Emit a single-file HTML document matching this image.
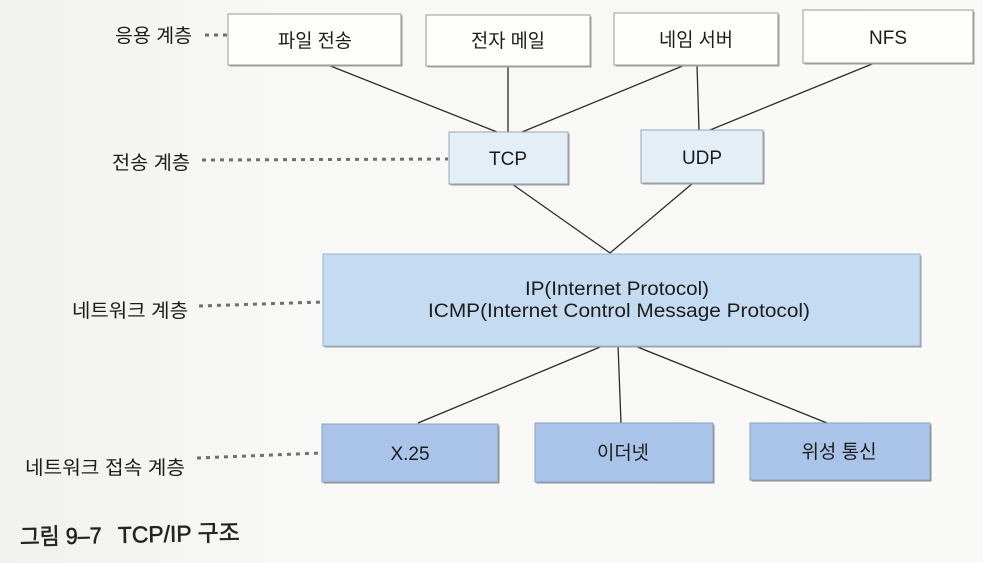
<!DOCTYPE html>
<html><head><meta charset="utf-8"><style>
html,body{margin:0;padding:0;background:#f7f7f5;}
svg{display:block;}
text{font-family:"Liberation Sans","Noto Sans CJK KR",sans-serif;fill:#1c1c1c;}
</style></head><body>
<svg width="983" height="563" viewBox="0 0 983 563" xmlns="http://www.w3.org/2000/svg">
<defs>
<linearGradient id="bg" x1="0" y1="0" x2="1" y2="0">
<stop offset="0" stop-color="#f1f1ef"/><stop offset="0.3" stop-color="#f8f8f6"/><stop offset="1" stop-color="#f9f9f7"/>
</linearGradient>
</defs>
<rect x="0" y="0" width="983" height="563" fill="url(#bg)"/>

<!-- connectors -->
<g stroke="#2a2a2a" stroke-width="1.3" fill="none">
<line x1="328" y1="65" x2="497" y2="132"/>
<line x1="508" y1="66" x2="508" y2="132"/>
<line x1="685" y1="65" x2="522" y2="132"/>
<line x1="697" y1="65" x2="699" y2="130"/>
<line x1="877" y1="62" x2="710" y2="130"/>
<line x1="512" y1="184" x2="610" y2="253"/>
<line x1="693" y1="183" x2="610" y2="253"/>
<line x1="605" y1="345" x2="418" y2="423"/>
<line x1="618" y1="345" x2="621" y2="423"/>
<line x1="630" y1="344" x2="827" y2="423"/>
</g>

<!-- dotted leaders -->
<g stroke="#6f6f6f" stroke-width="3" stroke-dasharray="4 5" fill="none">
<line x1="205" y1="35" x2="228" y2="35"/>
<line x1="202" y1="160" x2="448" y2="159"/>
<line x1="199" y1="306" x2="322" y2="302"/>
<line x1="197" y1="458" x2="322" y2="453"/>
</g>

<!-- application boxes -->
<g stroke="#9a9a9a" stroke-width="1">
<rect x="229.5" y="15.5" width="173" height="51" fill="#a0a0a0" stroke="none"/>
<rect x="228" y="14" width="173" height="51" fill="#fdfdfc"/>
<rect x="427.5" y="16.5" width="164" height="51" fill="#a0a0a0" stroke="none"/>
<rect x="426" y="15" width="164" height="51" fill="#fdfdfc"/>
<rect x="615.5" y="14.5" width="164" height="52" fill="#a0a0a0" stroke="none"/>
<rect x="614" y="13" width="164" height="52" fill="#fdfdfc"/>
<rect x="804.5" y="11.5" width="170" height="53" fill="#a0a0a0" stroke="none"/>
<rect x="803" y="10" width="170" height="53" fill="#fdfdfc"/>
</g>

<!-- transport boxes -->
<g stroke="#9aa4ae" stroke-width="1">
<rect x="450.5" y="133.5" width="119" height="52" fill="#9a9a9a" stroke="none"/>
<rect x="449" y="132" width="119" height="52" fill="#e4eef7"/>
<rect x="642.5" y="131.5" width="122" height="53" fill="#9a9a9a" stroke="none"/>
<rect x="641" y="130" width="122" height="53" fill="#e4eef7"/>
</g>

<!-- network box -->
<rect x="324.5" y="255.5" width="597" height="92" fill="#9a9a9a"/>
<rect x="323" y="254" width="597" height="92" fill="#c4dbf1" stroke="#9fb3c6" stroke-width="1"/>

<!-- link boxes -->
<g stroke="#8ea2b8" stroke-width="1">
<rect x="323.5" y="425.5" width="176" height="58" fill="#8f8f8f" stroke="none"/>
<rect x="322" y="424" width="176" height="58" fill="#a9c4e8"/>
<rect x="536.5" y="424.5" width="178" height="59" fill="#8f8f8f" stroke="none"/>
<rect x="535" y="423" width="178" height="59" fill="#a9c4e8"/>
<rect x="751.5" y="424.5" width="180" height="57" fill="#8f8f8f" stroke="none"/>
<rect x="750" y="423" width="180" height="57" fill="#a9c4e8"/>
</g>

<!-- box labels -->
<g font-size="19" text-anchor="middle">
<text x="315" y="47" textLength="74" lengthAdjust="spacingAndGlyphs">파일 전송</text>
<text x="508" y="47" textLength="74" lengthAdjust="spacingAndGlyphs">전자 메일</text>
<text x="696" y="46" textLength="74" lengthAdjust="spacingAndGlyphs">네임 서버</text>
<text x="888" y="44">NFS</text>
<text x="508" y="165">TCP</text>
<text x="702" y="164">UDP</text>
<text x="617" y="295" textLength="184" lengthAdjust="spacingAndGlyphs">IP(Internet Protocol)</text>
<text x="619" y="317" textLength="382" lengthAdjust="spacingAndGlyphs">ICMP(Internet Control Message Protocol)</text>
<text x="410" y="460">X.25</text>
<text x="623" y="459" textLength="52" lengthAdjust="spacingAndGlyphs">이더넷</text>
<text x="839" y="458" textLength="75" lengthAdjust="spacingAndGlyphs">위성 통신</text>
</g>

<!-- layer labels -->
<g font-size="19">
<text x="115" y="42" textLength="77" lengthAdjust="spacingAndGlyphs">응용 계층</text>
<text x="112" y="169" textLength="78" lengthAdjust="spacingAndGlyphs">전송 계층</text>
<text x="72" y="317" textLength="116" lengthAdjust="spacingAndGlyphs">네트워크 계층</text>
<text x="25" y="474" textLength="160" lengthAdjust="spacingAndGlyphs">네트워크 접속 계층</text>
</g>

<!-- caption -->
<g transform="rotate(-1.2 20 545)" font-size="23" stroke="#222" stroke-width="0.5" style="fill:#222">
<text x="20" y="545" textLength="82" lengthAdjust="spacingAndGlyphs" style="fill:#222">그림 9–7</text>
<text x="118" y="545" textLength="122" lengthAdjust="spacingAndGlyphs" style="fill:#222">TCP/IP 구조</text>
</g>
</svg>
</body></html>
